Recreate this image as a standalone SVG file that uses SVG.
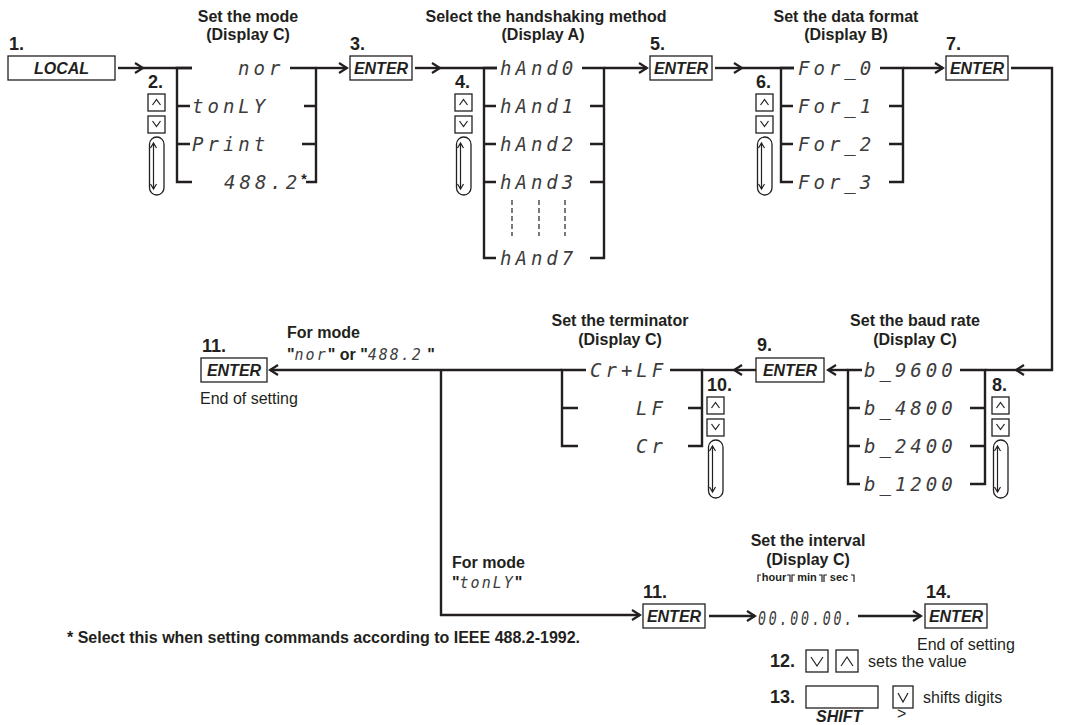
<svg xmlns="http://www.w3.org/2000/svg" xmlns:xlink="http://www.w3.org/1999/xlink" width="1066" height="725" viewBox="0 0 1066 725">
<style>
.t{font-family:"Liberation Sans",Arial,sans-serif;font-weight:bold;font-size:16px;fill:#231f20}
.n{font-family:"Liberation Sans",Arial,sans-serif;font-weight:bold;font-size:18px;fill:#231f20}
.k{font-family:"Liberation Sans",Arial,sans-serif;font-weight:bold;font-style:italic;font-size:16px;fill:#231f20}
.r{font-family:"Liberation Sans",Arial,sans-serif;font-size:16px;fill:#231f20}
.seg{font-family:"DejaVu Sans Mono",monospace;font-style:oblique;font-size:19px;fill:#3c3c3c;letter-spacing:4px}
.segs{font-family:"DejaVu Sans Mono",monospace;font-style:oblique;font-size:15px;font-weight:normal;fill:#3c3c3c;letter-spacing:2px}
.ast{font-family:"Liberation Sans",Arial,sans-serif;font-weight:bold;font-style:normal;font-size:14px;fill:#231f20;letter-spacing:0}
.sm{font-family:"Liberation Sans",Arial,sans-serif;font-weight:bold;font-size:11px;fill:#231f20}
.ln{stroke:#231f20;stroke-width:2.4;fill:none}
.th{stroke:#231f20;stroke-width:1.2;fill:none}
.box{fill:#fff;stroke:#231f20;stroke-width:1.3}
.ds{stroke:#231f20;stroke-width:1.2;stroke-dasharray:5 3;fill:none}
</style>
<defs>
<marker id="ah" markerWidth="12" markerHeight="12" refX="10" refY="6" orient="auto" markerUnits="userSpaceOnUse">
<path d="M2,1 L10,6 L2,11" fill="none" stroke="#231f20" stroke-width="2.2"/>
</marker>
<g id="keys">
<rect class="box" x="0" y="0" width="17" height="17"/>
<path d="M4.5,11 L8.5,5.5 L12.5,11" class="th" stroke-width="1.6"/>
<rect class="box" x="0" y="22" width="17" height="17"/>
<path d="M4.5,27 L8.5,32.5 L12.5,27" class="th" stroke-width="1.6"/>
<rect class="box" x="1.5" y="43" width="14.5" height="58" rx="7.25"/>
<path d="M5.5,49 V95 M2.5,54 L5.5,49 L8.5,54 M2.5,90 L5.5,95 L8.5,90" class="th" stroke-width="1"/>
</g>
</defs>
<rect width="1066" height="725" fill="#fff"/>

<g id="connectors">
<path class="ln" d="M118,68 H143" marker-end="url(#ah)"/>
<path class="ln" d="M143,68 H192"/>
<path class="ln" d="M316,68 H347" marker-end="url(#ah)"/>
<path class="ln" d="M415,68 H440" marker-end="url(#ah)"/>
<path class="ln" d="M440,68 H497"/>
<path class="ln" d="M604,68 H647" marker-end="url(#ah)"/>
<path class="ln" d="M715,68 H742" marker-end="url(#ah)"/>
<path class="ln" d="M742,68 H794"/>
<path class="ln" d="M903,68 H943" marker-end="url(#ah)"/>
<path class="ln" d="M1011,68 H1052 V370 H1016" marker-end="url(#ah)"/>
<path class="ln" d="M1016,370 H985"/>
<path class="ln" d="M848,370 H828" marker-end="url(#ah)"/>
<path class="ln" d="M756,370 H734" marker-end="url(#ah)"/>
<path class="ln" d="M734,370 H702"/>
<path class="ln" d="M562,370 H270" marker-end="url(#ah)"/>
<path class="ln" d="M441,370 V615 H640" marker-end="url(#ah)"/>
<path class="ln" d="M709,616 H755" marker-end="url(#ah)"/>
<path class="ln" d="M858,616 H921" marker-end="url(#ah)"/>
</g>

<g id="step1">
<text class="n" x="9" y="50">1.</text>
<rect class="box" x="8" y="56" width="107" height="24"/>
<text class="k" x="61.5" y="74" text-anchor="middle">LOCAL</text>
</g>

<g id="mode">
<text class="t" x="248" y="22" text-anchor="middle">Set the mode</text>
<text class="t" x="248" y="40" text-anchor="middle">(Display C)</text>
<text class="n" x="148" y="88">2.</text>
<use xlink:href="#keys" x="148" y="94"/>
<path class="ln" d="M192,68 H177 V182 H192 M177,106 H190 M177,144 H190"/>
<path class="ln" d="M290,68 H316 V182 H306 M304,106 H316 M302,144 H316"/>
<text class="seg" x="238" y="75">nor</text>
<text class="seg" x="192" y="113">tonLY</text>
<text class="seg" x="192" y="151">Print</text>
<text class="seg" x="224" y="189" letter-spacing="1">488.2<tspan class="ast" dy="-5">*</tspan></text>
</g>

<g id="step3">
<text class="n" x="350" y="50">3.</text>
<rect class="box" x="350" y="56" width="62" height="24"/>
<text class="k" x="381" y="74" text-anchor="middle">ENTER</text>
</g>

<g id="handshake">
<text class="t" x="546" y="22" text-anchor="middle">Select the handshaking method</text>
<text class="t" x="543" y="40" text-anchor="middle">(Display A)</text>
<text class="n" x="455" y="88">4.</text>
<use xlink:href="#keys" x="455" y="94"/>
<path class="ln" d="M497,68 H484 V258 H496 M484,106 H496 M484,144 H496 M484,182 H496"/>
<path class="ln" d="M582,68 H604 V258 H590 M590,106 H604 M590,144 H604 M590,182 H604"/>
<text class="seg" x="500" y="75">hAnd0</text>
<text class="seg" x="500" y="113">hAnd1</text>
<text class="seg" x="500" y="151">hAnd2</text>
<text class="seg" x="500" y="189">hAnd3</text>
<text class="seg" x="500" y="265">hAnd7</text>
<path class="ds" d="M512,200 V236 M539,200 V236 M565,200 V236"/>
</g>

<g id="step5">
<text class="n" x="650" y="50">5.</text>
<rect class="box" x="650" y="56" width="62" height="24"/>
<text class="k" x="681" y="74" text-anchor="middle">ENTER</text>
</g>

<g id="format">
<text class="t" x="846" y="22" text-anchor="middle">Set the data format</text>
<text class="t" x="846" y="40" text-anchor="middle">(Display B)</text>
<text class="n" x="756" y="88">6.</text>
<use xlink:href="#keys" x="756" y="94"/>
<path class="ln" d="M794,68 H781 V182 H793 M781,106 H793 M781,144 H793"/>
<path class="ln" d="M880,68 H903 V182 H889 M889,106 H903 M889,144 H903"/>
<text class="seg" x="798" y="75">For_0</text>
<text class="seg" x="798" y="113">For_1</text>
<text class="seg" x="798" y="151">For_2</text>
<text class="seg" x="798" y="189">For_3</text>
</g>

<g id="step7">
<text class="n" x="946" y="50">7.</text>
<rect class="box" x="946" y="56" width="62" height="24"/>
<text class="k" x="977" y="74" text-anchor="middle">ENTER</text>
</g>

<g id="baud">
<text class="t" x="915" y="326" text-anchor="middle">Set the baud rate</text>
<text class="t" x="915" y="345" text-anchor="middle">(Display C)</text>
<path class="ln" d="M862,370 H848 V484 H860 M848,408 H860 M848,446 H860"/>
<path class="ln" d="M960,370 H985 V484 H970 M970,408 H985 M970,446 H985"/>
<text class="seg" x="864" y="377">b_9600</text>
<text class="seg" x="864" y="415">b_4800</text>
<text class="seg" x="864" y="453">b_2400</text>
<text class="seg" x="864" y="491">b_1200</text>
<text class="n" x="992" y="391">8.</text>
<use xlink:href="#keys" x="992" y="397"/>
</g>

<g id="step9">
<text class="n" x="757" y="351">9.</text>
<rect class="box" x="756" y="358" width="68" height="24"/>
<text class="k" x="790" y="376" text-anchor="middle">ENTER</text>
</g>

<g id="terminator">
<text class="t" x="620" y="326" text-anchor="middle">Set the terminator</text>
<text class="t" x="620" y="345" text-anchor="middle">(Display C)</text>
<path class="ln" d="M586,370 H562 V446 H578 M562,408 H578"/>
<path class="ln" d="M670,370 H702 V446 H688 M688,408 H702"/>
<text class="seg" x="590" y="377">Cr+LF</text>
<text class="seg" x="636" y="415">LF</text>
<text class="seg" x="636" y="453">Cr</text>
<text class="n" x="707" y="391">10.</text>
<use xlink:href="#keys" x="707" y="397"/>
</g>

<g id="step11a">
<text class="t" x="287" y="338">For mode</text>
<text class="t" x="287" y="360">"<tspan class="segs">nor</tspan>" or "<tspan class="segs">488.2</tspan> "</text>
<text class="n" x="202" y="352">11.</text>
<rect class="box" x="201" y="358" width="66" height="24"/>
<text class="k" x="234" y="376" text-anchor="middle">ENTER</text>
<text class="r" x="200" y="404">End of setting</text>
</g>

<g id="interval">
<text class="t" x="452" y="568">For mode</text>
<text class="t" x="452" y="588" font-weight="normal">"<tspan class="segs">tonLY</tspan>"</text>
<text class="t" x="808" y="546" text-anchor="middle">Set the interval</text>
<text class="t" x="808" y="565" text-anchor="middle">(Display C)</text>
<path class="th" d="M758,582 V575 H761 M787,575 H790 V582 M792,582 V575 H795 M819,575 H822 V582 M824,582 V575 H827 M851,575 H854 V582"/>
<text class="sm" x="774" y="581" text-anchor="middle">hour</text>
<text class="sm" x="807" y="581" text-anchor="middle">min</text>
<text class="sm" x="839" y="581" text-anchor="middle">sec</text>
<text class="seg" x="758" y="625" font-size="23" textLength="97" lengthAdjust="spacingAndGlyphs" letter-spacing="0">00.00.00.</text>
</g>

<g id="step11b">
<text class="n" x="643" y="598">11.</text>
<rect class="box" x="643" y="604" width="62" height="24"/>
<text class="k" x="674" y="622" text-anchor="middle">ENTER</text>
</g>

<g id="step14">
<text class="n" x="926" y="598">14.</text>
<rect class="box" x="925" y="604" width="62" height="24"/>
<text class="k" x="956" y="622" text-anchor="middle">ENTER</text>
<text class="r" x="917" y="650">End of setting</text>
</g>

<g id="step12">
<text class="n" x="770" y="667">12.</text>
<rect class="box" x="806" y="650" width="22" height="22"/>
<path class="th" stroke-width="1.6" d="M811,657 L817,666 L823,657"/>
<rect class="box" x="836" y="650" width="22" height="22"/>
<path class="th" stroke-width="1.6" d="M841,666 L847,657 L853,666"/>
<text class="r" x="868" y="667">sets the value</text>
</g>

<g id="step13">
<text class="n" x="770" y="703">13.</text>
<rect class="box" x="806" y="686" width="72" height="22"/>
<rect class="box" x="893" y="686" width="20" height="22"/>
<path class="th" stroke-width="1.6" d="M898,693 L903,702 L908,693"/>
<text class="r" x="923" y="703">shifts digits</text>
<text class="k" x="816" y="722" font-size="15">SHIFT</text>
<text class="r" x="897" y="719" font-size="14">&gt;</text>
</g>

<g id="footnote">
<text class="t" x="67" y="643" font-size="13.5">* Select this when setting commands according to IEEE 488.2-1992.</text>
</g>
</svg>
